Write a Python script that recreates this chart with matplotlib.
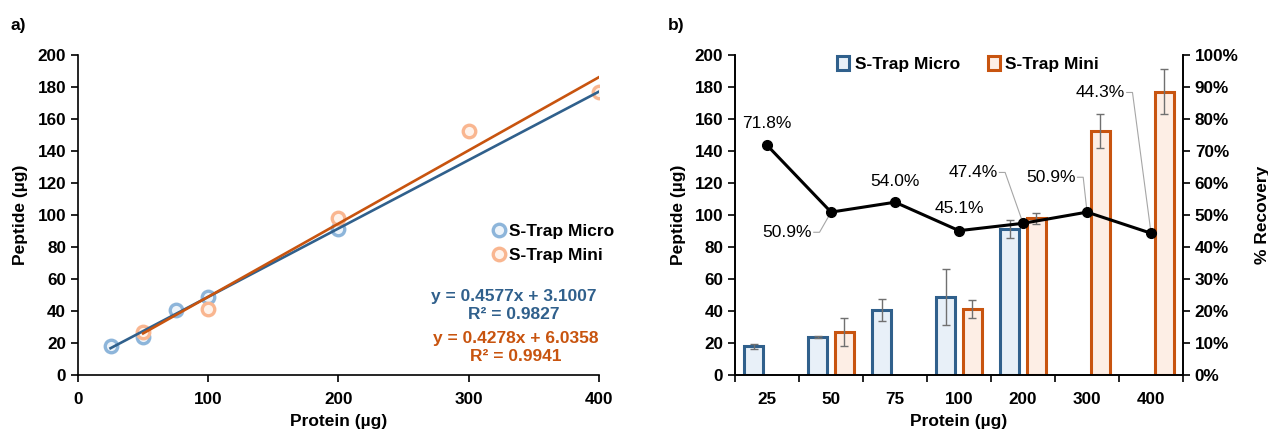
import numpy as np
import matplotlib
matplotlib.use("Agg")
import matplotlib.pyplot as plt
from matplotlib.ticker import PercentFormatter, MultipleLocator

plt.rcParams['font.family'] = ['Liberation Sans', 'DejaVu Sans']

# ---- data ----
protein = [25, 50, 75, 100, 200, 300, 400]
micro_mean = [17.8, 23.8, 40.6, 48.8, 91.5, np.nan, np.nan]
micro_err = [1.5, 0.5, 7.0, 17.5, 5.6, np.nan, np.nan]
mini_mean = [np.nan, 26.8, np.nan, 41.3, 98.0, 152.5, 177.0]
mini_err = [np.nan, 8.9, np.nan, 5.6, 3.4, 10.6, 14.0]
recovery = [71.8, 50.9, 54.0, 45.1, 47.4, 50.9, 44.3]

# trend lines as printed on the chart (slope, intercept, x start)
fit_blue = (0.4278, 6.0358, 25)
fit_orange = (0.4577, 3.1007, 50)
eq_blue = "y = 0.4577x + 3.1007\nR² = 0.9827"
eq_orange = "y = 0.4278x + 6.0358\nR² = 0.9941"

blue = '#30608C'
orange = '#C8540F'
blue_lt = '#8DB5DA'
orange_lt = '#F9B690'

fig = plt.figure(figsize=(12.68, 4.30), dpi=100)
axa = fig.add_axes([0.0615, 0.128, 0.4109, 0.744])
axb = fig.add_axes([0.5797, 0.128, 0.3533, 0.744])

fs_tick = 12.3
fs_lab = 12.5

# ---- panel a ----
px = np.array(protein, dtype=float)
m_ok = ~np.isnan(micro_mean)
n_ok = ~np.isnan(mini_mean)
axa.plot(px[m_ok], np.array(micro_mean)[m_ok], 'o', ms=9, mew=2.4,
         mec=blue_lt, mfc='#EEF4FA', label='S-Trap Micro', zorder=2)
axa.plot(px[n_ok], np.array(mini_mean)[n_ok], 'o', ms=9, mew=2.4,
         mec=orange_lt, mfc='#FEF3EC', label='S-Trap Mini', zorder=2)
for (k, b, x0), c in [(fit_blue, blue), (fit_orange, orange)]:
    xs = np.array([x0, 400])
    axa.plot(xs, k * xs + b, color=c, lw=1.9, zorder=3)

axa.set_xlim(0, 400)
axa.set_ylim(0, 200)
axa.xaxis.set_major_locator(MultipleLocator(100))
axa.yaxis.set_major_locator(MultipleLocator(20))
axa.spines[['top', 'right']].set_visible(False)
axa.tick_params(axis='x', pad=7)
axa.set_xlabel('Protein (µg)', fontsize=fs_lab, fontweight='bold', labelpad=5)
axa.set_ylabel('Peptide (µg)', fontsize=fs_lab, fontweight='bold', labelpad=7)
axa.legend(loc='upper left', bbox_to_anchor=(0.785, 0.495), frameon=False,
           handlelength=0.6, handletextpad=0.25, labelspacing=0.55,
           borderaxespad=0, prop={'weight': 'bold', 'size': 12.5})
axa.text(0.837, 0.218, eq_blue, transform=axa.transAxes, color=blue,
         ha='center', va='center', fontsize=12.5, fontweight='bold', linespacing=1.25)
axa.text(0.840, 0.085, eq_orange, transform=axa.transAxes, color=orange,
         ha='center', va='center', fontsize=12.5, fontweight='bold', linespacing=1.25)

# ---- panel b ----
idx = np.arange(len(protein))
w = 0.30
off = 0.21
axb.bar(idx[m_ok] - off, np.array(micro_mean)[m_ok], w, color='#E8F0F8',
        edgecolor=blue, lw=2.2, label='S-Trap Micro', zorder=2)
axb.bar(idx[n_ok] + off, np.array(mini_mean)[n_ok], w, color='#FDEEE5',
        edgecolor=orange, lw=2.2, label='S-Trap Mini', zorder=2)
axb.errorbar(idx[m_ok] - off, np.array(micro_mean)[m_ok], yerr=np.array(micro_err)[m_ok],
             fmt='none', ecolor='#707070', elinewidth=1, capsize=3, capthick=1, zorder=3)
axb.errorbar(idx[n_ok] + off, np.array(mini_mean)[n_ok], yerr=np.array(mini_err)[n_ok],
             fmt='none', ecolor='#707070', elinewidth=1, capsize=3, capthick=1, zorder=3)

axb.set_xlim(-0.5, len(protein) - 0.5)
axb.set_ylim(0, 200)
axb.yaxis.set_major_locator(MultipleLocator(20))
axb.set_xticks(np.arange(len(protein) + 1) - 0.5)
axb.set_xticklabels([])
axb.set_xticks(idx, minor=True)
axb.set_xticklabels([str(p) for p in protein], minor=True)
axb.tick_params(axis='x', which='minor', length=0, pad=12)
axb.spines[['top']].set_visible(False)
axb.set_xlabel('Protein (µg)', fontsize=fs_lab, fontweight='bold', labelpad=5)
axb.set_ylabel('Peptide (µg)', fontsize=fs_lab, fontweight='bold', labelpad=6)
axb.legend(loc='upper center', bbox_to_anchor=(0.52, 1.02), ncol=2, frameon=False,
           handlelength=0.7, handleheight=0.9, handletextpad=0.3, columnspacing=1.6,
           borderaxespad=0, prop={'weight': 'bold', 'size': 12.5})

ax2 = axb.twinx()
ax2.plot(idx, recovery, '-o', color='black', lw=2.2, ms=7, zorder=4)
ax2.set_ylim(0, 100)
ax2.yaxis.set_major_locator(MultipleLocator(10))
ax2.yaxis.set_major_formatter(PercentFormatter(decimals=0))
ax2.spines[['top']].set_visible(False)
ax2.set_ylabel('% Recovery', fontsize=fs_lab, fontweight='bold', labelpad=12)

# data labels: (x, y, align, has leader)
lab_pos = [(0.0, 78.6, 'center', False),
           (0.70, 44.6, 'right', True),
           (2.0, 60.6, 'center', False),
           (3.0, 51.9, 'center', False),
           (3.60, 63.3, 'right', True),
           (4.82, 61.8, 'right', True),
           (5.59, 88.3, 'right', True)]
for i, (lx, ly, ha, lead) in enumerate(lab_pos):
    ax2.text(lx, ly, f"{recovery[i]:.1f}%", ha=ha, va='center', fontsize=12.5)
    if lead:
        ax2.plot([lx + 0.03, lx + 0.12, idx[i]], [ly, ly, recovery[i]],
                 color='#A6A6A6', lw=0.8, zorder=3)

for ax in (axa, axb, ax2):
    ax.tick_params(which='both', direction='out', labelsize=fs_tick, width=1.2)
    ax.tick_params(which='major', length=5)
    for lbl in ax.get_xticklabels(which='both') + ax.get_yticklabels():
        lbl.set_fontweight('bold')
    for s in ax.spines.values():
        s.set_linewidth(1.2)

fig.text(0.008, 0.94, 'a)', fontsize=12.5, fontweight='bold', va='center')
fig.text(0.527, 0.94, 'b)', fontsize=12.5, fontweight='bold', va='center')

fig.savefig('out.png', dpi=100)
